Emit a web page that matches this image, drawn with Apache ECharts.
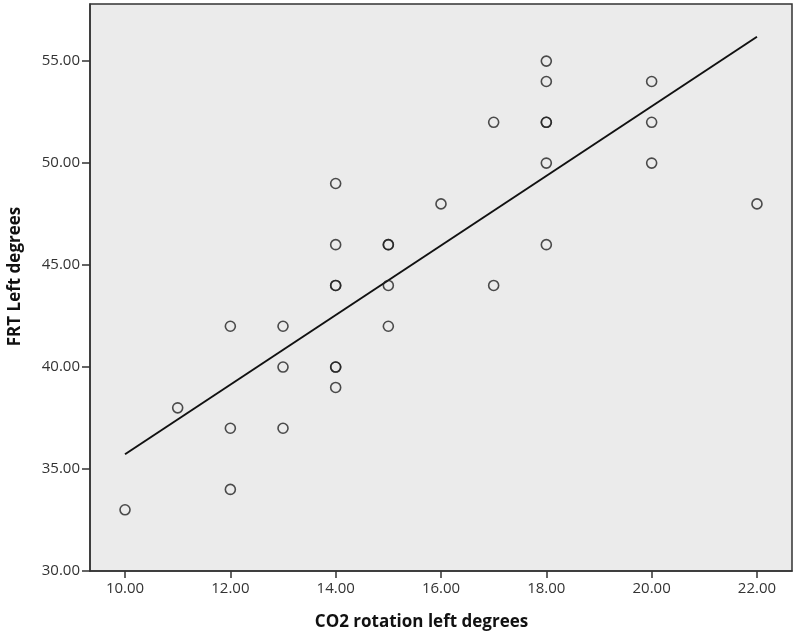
<!DOCTYPE html>
<html>
<head>
<meta charset="utf-8">
<script src="https://cdn.jsdelivr.net/npm/echarts@6/dist/echarts.min.js"></script>
<style>
html, body { margin: 0; padding: 0; background: #fff; }
#chart { width: 800px; height: 635px; }
</style>
</head>
<body>
<div id="chart"></div>
<script>
// CO2 rotation left (x) vs FRT left (y), one entry per subject
const co2Left = [10, 11, 12, 12, 12, 13, 13, 13, 14, 14, 14, 14, 14, 14, 14,
    15, 15, 15, 15, 16, 17, 17, 18, 18, 18, 18, 18, 18, 20, 20, 20, 22];
const frtLeft = [33, 38, 42, 37, 34, 42, 40, 37, 49, 46, 44, 44, 40, 40, 39,
    46, 46, 44, 42, 48, 52, 44, 55, 54, 52, 52, 50, 46, 54, 52, 50, 48];
const xTicks = [10, 12, 14, 16, 18, 20, 22];
const yTicks = [30, 35, 40, 45, 50, 55];

// least squares fit line over the data range
function fitLine(xs, ys) {
    const n = xs.length;
    let mx = 0, my = 0;
    for (let i = 0; i < n; i++) { mx += xs[i]; my += ys[i]; }
    mx /= n; my /= n;
    let sxy = 0, sxx = 0;
    for (let i = 0; i < n; i++) {
        sxy += (xs[i] - mx) * (ys[i] - my);
        sxx += (xs[i] - mx) * (xs[i] - mx);
    }
    const b = sxy / sxx, a = my - b * mx;
    const x0 = Math.min.apply(null, xs), x1 = Math.max.apply(null, xs);
    return [[x0, a + b * x0], [x1, a + b * x1]];
}

const points = co2Left.map(function(x, i) { return [x, frtLeft[i]]; });
const fit = fitLine(co2Left, frtLeft);

const axisFont = { color: '#333', fontSize: 15, fontFamily: 'Open Sans' };
const titleFont = { color: '#111', fontSize: 17, fontWeight: 'bold', fontFamily: 'Open Sans' };

const chart = echarts.init(document.getElementById('chart'));
chart.setOption({
    backgroundColor: '#fff',
    animation: false,
    grid: {
        left: 90, right: 8, top: 4, bottom: 64,
        outerBoundsMode: 'none',
        show: true,
        backgroundColor: '#ebebeb',
        borderColor: '#333',
        borderWidth: 1.5
    },
    xAxis: {
        type: 'value',
        min: 9.335,
        max: 22.665,
        name: 'CO2 rotation left degrees',
        nameLocation: 'middle',
        nameGap: 43,
        nameTextStyle: Object.assign({ padding: [0, 39, 0, 0] }, titleFont),
        axisLine: { lineStyle: { color: '#333', width: 1.5 } },
        axisTick: { length: 7, customValues: xTicks, lineStyle: { color: '#333', width: 1.5 } },
        axisLabel: Object.assign({
            customValues: xTicks,
            margin: 10,
            formatter: function(v) { return v.toFixed(2); }
        }, axisFont),
        splitLine: { show: false }
    },
    yAxis: {
        type: 'value',
        min: 30,
        max: 57.8,
        name: 'FRT Left degrees',
        nameLocation: 'middle',
        nameGap: 66,
        nameTextStyle: Object.assign({ padding: [0, 0, 0, 22] }, titleFont),
        axisLine: { lineStyle: { color: '#333', width: 1.5 } },
        axisTick: { length: 8, customValues: yTicks, lineStyle: { color: '#333', width: 1.5 } },
        axisLabel: Object.assign({
            customValues: yTicks,
            margin: 10,
            formatter: function(v) { return v.toFixed(2); }
        }, axisFont),
        splitLine: { show: false }
    },
    series: [{
        type: 'line',
        data: fit,
        symbol: 'none',
        silent: true,
        lineStyle: { color: '#111', width: 2 },
        z: 2
    }, {
        type: 'scatter',
        data: points,
        symbol: 'circle',
        symbolSize: 10,
        itemStyle: { color: 'rgba(0,0,0,0)', borderColor: '#222', borderWidth: 1.6 },
        z: 3
    }]
});
</script>
</body>
</html>
